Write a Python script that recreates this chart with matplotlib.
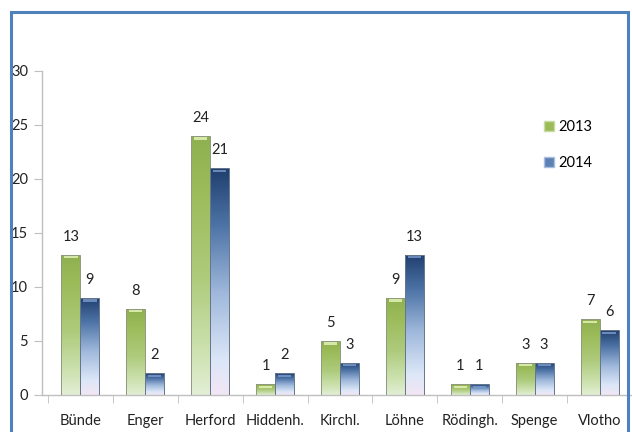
import numpy as np
import matplotlib
matplotlib.use("Agg")
from matplotlib import pyplot as plt
from matplotlib.colors import LinearSegmentedColormap
from matplotlib.patches import Rectangle, Patch

plt.rcParams['font.family'] = ['Lato', 'DejaVu Sans']

cities = ['Bünde', 'Enger', 'Herford', 'Hiddenh.', 'Kirchl.', 'Löhne', 'Rödingh.', 'Spenge', 'Vlotho']
vals_2013 = [13, 8, 24, 1, 5, 9, 1, 3, 7]
vals_2014 = [9, 2, 21, 2, 3, 13, 1, 3, 6]
years = ['2013', '2014']

W, H = 632, 432
fs = 10.5
fig = plt.figure(figsize=(W / 100, H / 100), dpi=100)

# outer blue frame (bottom edge runs off the picture)
fig.patches.append(Rectangle((11 / W, -0.05), 617 / W, (H - 12) / H + 0.05, transform=fig.transFigure,
                             fill=False, edgecolor='#4f81bd', linewidth=2.2))

ax = fig.add_axes([42 / W, 37 / H, 590 / W, 324 / H])

green_cm = LinearSegmentedColormap.from_list('g', [(0, '#e3efd6'), (0.15, '#cfe3b4'), (0.45, '#aecb7c'),
                                                   (0.8, '#9bbb59'), (1, '#8fb050')])
blue_cm = LinearSegmentedColormap.from_list('b', [(0, '#f3e6f5'), (0.15, '#dce7f8'), (0.45, '#9fb8db'),
                                                  (0.75, '#4d73a6'), (1, '#1f3f6e')])
grad = np.linspace(0, 1, 256).reshape(-1, 1)

x = np.arange(len(cities))
bw = 19 / 65
b1 = ax.bar(x - bw / 2, vals_2013, bw, facecolor='none', edgecolor='#8e9a80', linewidth=0.7, zorder=3)
b2 = ax.bar(x + bw / 2, vals_2014, bw, facecolor='none', edgecolor='#66768c', linewidth=0.7, zorder=3)

def fill_bars(bars, cmap, top_hi):
    for p in bars:
        x0, w, h = p.get_x(), p.get_width(), p.get_height()
        im = ax.imshow(grad, cmap=cmap, extent=(x0, x0 + w, 0, h), origin='lower',
                       aspect='auto', zorder=2, interpolation='bicubic')
        im.set_clip_path(p)
        # small bevel highlight at the top of each bar
        ax.add_patch(Rectangle((x0 + w * 0.15, h - 0.35), w * 0.7, 0.22, facecolor=top_hi,
                               edgecolor='none', alpha=0.8, zorder=4))

fill_bars(b1, green_cm, '#eaf5bd')
fill_bars(b2, blue_cm, '#7d9ccc')

for bars, vals in [(b1, vals_2013), (b2, vals_2014)]:
    for p, v in zip(bars, vals):
        ax.annotate(str(v), (p.get_x() + p.get_width() / 2, v), xytext=(0, 13),
                    textcoords='offset points', ha='center', va='center', fontsize=fs, color='#222222')

ax.set_xlim((42 - 80.5) / 65, (632 - 80.5) / 65)
ax.set_ylim(0, 30)
ax.set_yticks(range(0, 31, 5))
ax.set_xticks(x)
ax.set_xticklabels(cities)
ax.set_xticks(np.arange(-0.5, len(cities), 1), minor=True)
ax.tick_params(axis='x', which='major', length=0, pad=14, labelsize=fs, labelcolor='#222222')
ax.tick_params(axis='x', which='minor', length=6, color='#bfbfbf', direction='out')
ax.tick_params(axis='y', length=6, color='#bfbfbf', labelsize=fs, labelcolor='#222222', pad=4)
for s in ['top', 'right']:
    ax.spines[s].set_visible(False)
for s in ['left', 'bottom']:
    ax.spines[s].set_color('#bfbfbf')
    ax.spines[s].set_linewidth(1.0)

handles = [Patch(facecolor='#9bbb59', edgecolor='#c8dca0'), Patch(facecolor='#5c82b3', edgecolor='#a9bde0')]
ax.legend(handles, years, loc='upper left', bbox_to_anchor=(531 / W, (H - 107) / H),
          bbox_transform=fig.transFigure, frameon=False, fontsize=fs, handlelength=0.65,
          handleheight=0.65, handletextpad=0.3, labelspacing=1.5)

fig.savefig('out.png', dpi=100)
